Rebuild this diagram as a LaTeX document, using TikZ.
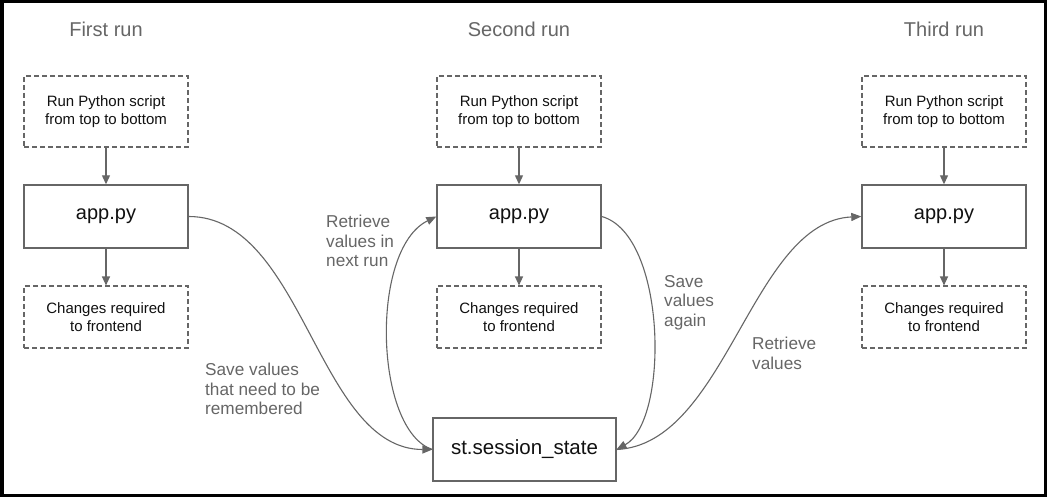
\documentclass[tikz,border=0pt]{standalone}
\usepackage{fontspec}
\setmainfont{Liberation Sans}
\usetikzlibrary{arrows.meta}
\definecolor{edgegrey}{HTML}{666666}
\definecolor{labgrey}{HTML}{666666}
\definecolor{boxtext}{HTML}{111111}
\tikzset{
  dashbox/.style={draw=edgegrey, line width=1.1pt, dash pattern=on 5pt off 3pt,
    minimum width=164pt, align=center, inner sep=0pt, text=boxtext,
    font=\fontsize{15}{17.5}\selectfont},
  appbox/.style={draw=edgegrey, line width=1.4pt, minimum width=164pt, minimum height=63pt,
    inner sep=0pt, text=boxtext, font=\fontsize{20}{24}\selectfont},
  title/.style={text=labgrey, inner sep=0pt, font=\fontsize{20}{24}\selectfont},
  elabel/.style={text=labgrey, inner sep=0pt, anchor=north west, align=left,
    font=\fontsize{17.2}{19.5}\selectfont},
  conn/.style={draw=edgegrey, line width=1.2pt, -{Triangle[length=9pt,width=8pt]}},
  curve/.style={draw=edgegrey, line width=1.1pt, -{Triangle[length=10pt,width=8pt]}}
}
\begin{document}
\begin{tikzpicture}[x=1pt,y=-1pt]
\useasboundingbox (0,0) rectangle (1047,497);
\fill[white] (0,0) rectangle (1047,497);
\draw[line width=3.5pt, black] (1.75,1.75) rectangle (1045.25,495.25);

% titles
\node[title] (t1) at (106,29) {First run};
\node[title] (t2) at (519,29) {Second run};
\node[title] (t3) at (944,29) {Third run};

% column 1
\node[dashbox, minimum height=71pt] (d1) at (106,111.5) {Run Python script\\from top to bottom};
\node[appbox] (a1) at (106,216.5) {app.py};
\node[dashbox, minimum height=62pt] (c1) at (106,317) {Changes required\\to frontend};
% column 2
\node[dashbox, minimum height=71pt] (d2) at (519,111.5) {Run Python script\\from top to bottom};
\node[appbox] (a2) at (519,216.5) {app.py};
\node[dashbox, minimum height=62pt] (c2) at (519,317) {Changes required\\to frontend};
% column 3
\node[dashbox, minimum height=71pt] (d3) at (944,111.5) {Run Python script\\from top to bottom};
\node[appbox] (a3) at (944,216.5) {app.py};
\node[dashbox, minimum height=62pt] (c3) at (944,317) {Changes required\\to frontend};

% session state
\node[draw=edgegrey, line width=1.1pt, minimum width=183pt, minimum height=63pt, inner sep=0pt,
  text=boxtext, font=\fontsize{20.5}{24}\selectfont] (ss) at (524.5,449.5) {st.session\_state};

% vertical arrows
\draw[conn] (d1) -- (a1);
\draw[conn] (a1) -- (c1);
\draw[conn] (d2) -- (a2);
\draw[conn] (a2) -- (c2);
\draw[conn] (d3) -- (a3);
\draw[conn] (a3) -- (c3);

% curves
\draw[curve] (a1.east) .. controls +(115,0) and +(-115,0) .. (ss.west);
\draw[curve] (ss.west) .. controls +(-58,-19) and +(-67,33) .. (a2.west);
\draw[curve] (a2.east) .. controls +(65,18) and +(53,-29) .. (ss.east);
\draw[curve] (ss.east) .. controls +(110,-5) and +(-110,5) .. (a3.west);

% edge labels
\node[elabel] (l1) at (205,363) {Save values\\that need to be\\remembered};
\node[elabel] (l2) at (326,215) {Retrieve\\values in\\next run};
\node[elabel] (l3) at (664,275) {Save\\values\\again};
\node[elabel] (l4) at (752,337) {Retrieve\\values};
\end{tikzpicture}
\end{document}
